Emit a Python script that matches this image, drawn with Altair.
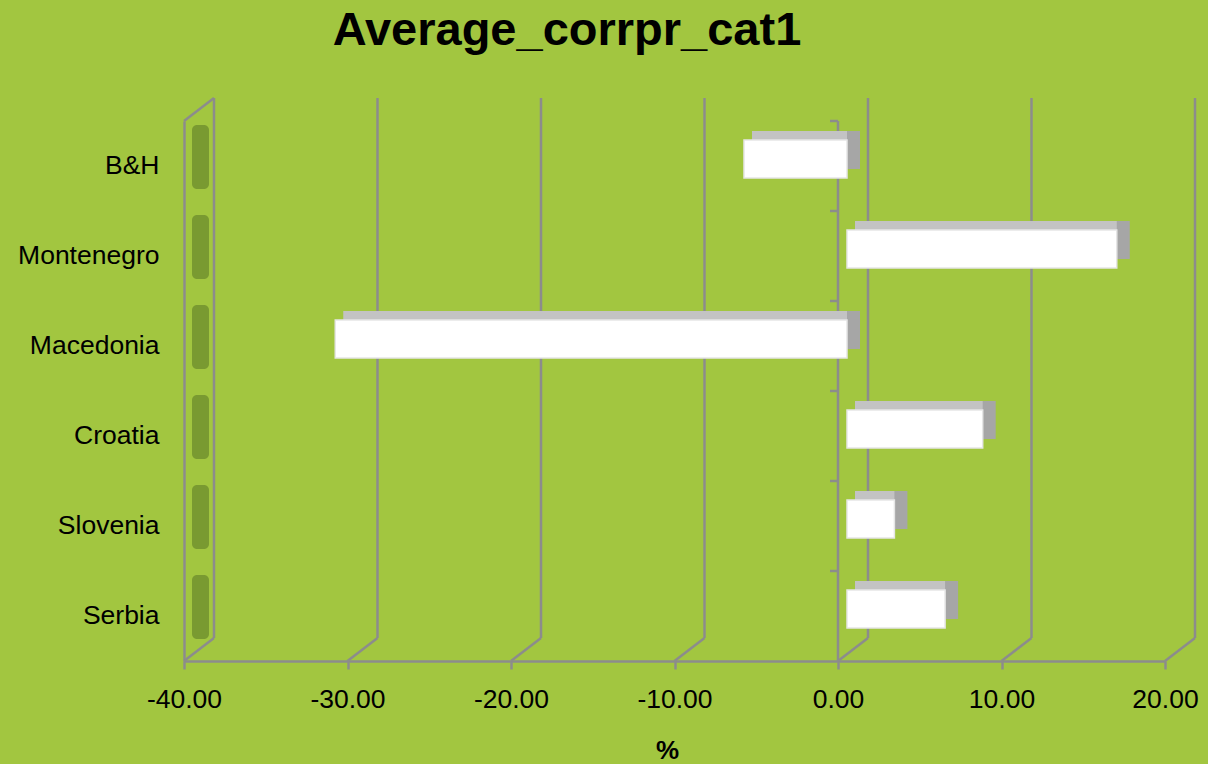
import altair as alt
import pandas as pd

categories = ["B&H", "Montenegro", "Macedonia", "Croatia", "Slovenia", "Serbia"]
values = [-6.3, 16.5, -31.3, 8.3, 2.9, 6.0]
grid_values = [-40, -30, -20, -10, 0, 10, 20]
title_text = "Average_corrpr_cat1"
x_title = "%"

bars = pd.DataFrame({"cat": categories, "v": values})
bars["lo"] = bars["v"].clip(upper=0)
bars["hi"] = bars["v"].clip(lower=0)
grid = pd.DataFrame({"g": grid_values})
wall = pd.DataFrame({"g": [grid_values[0]]})
zero = pd.DataFrame({"g": [0]})
ttl = pd.DataFrame({"t": [title_text]})

G = "#8c8c8c"
FONT = "Liberation Sans"

xscale = alt.Scale(domain=[-40, 20], nice=False, zero=False)
yscale = alt.Scale(paddingInner=0, paddingOuter=0)

X = alt.X("g:Q", scale=xscale,
          axis=alt.Axis(values=grid_values,
                        labelExpr="replace(format(datum.value, '.2f'), '\u2212', '-')",
                        labelFontSize=26.5, labelFont=FONT, labelColor="black",
                        labelFlush=False, labelOverlap=False,
                        tickSize=8, tickColor=G, tickWidth=2.5,
                        domainColor=G, domainWidth=2.5, grid=False,
                        labelPadding=17, title=x_title, titleFont=FONT,
                        titleFontSize=26, titleFontWeight="bold", titleColor="black",
                        titlePadding=25, titleX=483))
Y = alt.Y("cat:N", sort=categories, scale=yscale,
          axis=alt.Axis(title=None, labelFontSize=26.5, labelFont=FONT, labelColor="black",
                        ticks=False, labelPadding=25, domainColor=G, domainWidth=2.5,
                        grid=False))

back_grid = alt.Chart(grid).mark_rule(color=G, strokeWidth=2.5, xOffset=30).encode(
    x=X, y=alt.value(-23), y2=alt.value(517))
diag = alt.Chart(grid).mark_rule(color=G, strokeWidth=2.5, x2Offset=30).encode(
    x=X, x2="g:Q", y=alt.value(540), y2=alt.value(517))
wall_top = alt.Chart(wall).mark_rule(color=G, strokeWidth=2.5, x2Offset=30).encode(
    x=X, x2="g:Q", y=alt.value(0), y2=alt.value(-23))
wall_seg = alt.Chart(bars).mark_bar(color="#6b8b2c", opacity=0.75, size=64, yOffset=-9,
                                    cornerRadius=5).encode(
    y=Y, x=alt.value(8), x2=alt.value(25))
zero_line = alt.Chart(zero).mark_rule(color=G, strokeWidth=2.5).encode(
    x=X, y=alt.value(0), y2=alt.value(540))
zero_ticks = alt.Chart(bars).mark_rule(color=G, strokeWidth=2.5, xOffset=-8, yOffset=-45).encode(
    y=Y, x=alt.datum(0, scale=xscale), x2=alt.datum(0))

bar_side = alt.Chart(bars).mark_bar(color="#a6a6a6", size=38, xOffset=22, x2Offset=22,
                                    yOffset=-16).encode(
    y=Y, x=alt.X("lo:Q", scale=xscale), x2="hi:Q")
bar_top = alt.Chart(bars).mark_bar(color="#c3c3c3", size=38, xOffset=17, x2Offset=9,
                                   yOffset=-16).encode(
    y=Y, x=alt.X("lo:Q", scale=xscale), x2="hi:Q")
bar_front = alt.Chart(bars).mark_bar(color="white", stroke="#e6e6e6", strokeWidth=1.5,
                                     size=38, xOffset=9, x2Offset=9, yOffset=-7).encode(
    y=Y, x=alt.X("lo:Q", scale=xscale), x2="hi:Q")

title = alt.Chart(ttl).mark_text(fontSize=47, fontWeight="bold", font=FONT, align="center",
                                 baseline="middle", color="black").encode(
    text="t:N", x=alt.value(383), y=alt.value(-90))

chart = alt.layer(back_grid, diag, wall_top, wall_seg, zero_line, zero_ticks,
                  bar_side, bar_top, bar_front, title).properties(
    width=981, height=540,
    autosize=alt.AutoSizeParams(type="none"),
    padding={"left": 184, "top": 121, "right": 43, "bottom": 103},
    background="#a2c640",
).configure_view(stroke=None)

chart.save("out.html", embed_options={"renderer": "svg", "actions": False})
